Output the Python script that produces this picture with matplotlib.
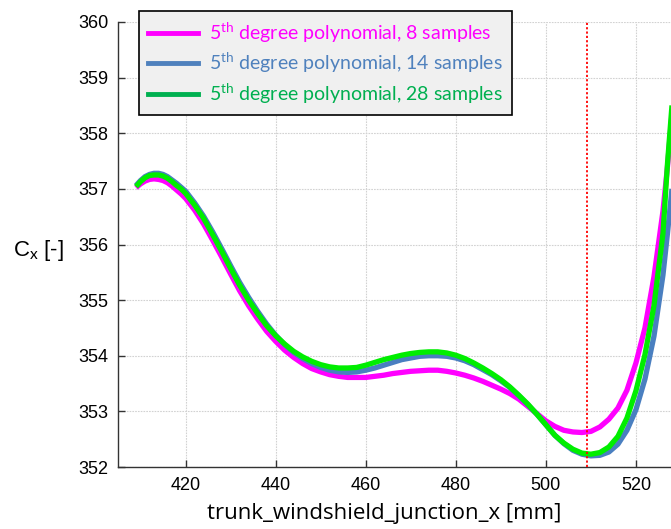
import matplotlib
matplotlib.use("Agg")
import matplotlib.pyplot as plt
from matplotlib.lines import Line2D

# ---- data ----
x_vals = [409, 410, 411, 412, 413, 414, 415, 416, 417, 418, 419, 420,
          422, 424, 426, 428, 430, 432, 434, 436, 438, 440, 442, 444, 446, 448,
          450, 452, 454, 456, 458, 460, 462, 464, 466, 468, 470, 472, 474, 476,
          478, 480, 482, 484, 486, 488, 490, 492, 494, 496, 498, 500, 502, 504,
          506, 508, 510, 512, 514, 516, 518, 520, 522, 524, 526, 527, 528]

y_8 = [357.02, 357.09, 357.14, 357.17, 357.18, 357.17, 357.15, 357.11, 357.05,
       356.98, 356.91, 356.83,
       356.62, 356.37, 356.08, 355.78, 355.47, 355.17, 354.90, 354.66, 354.44,
       354.26, 354.10, 353.97, 353.86, 353.77, 353.71, 353.66, 353.63, 353.61,
       353.61, 353.61, 353.63, 353.65, 353.68, 353.70, 353.72, 353.73, 353.74,
       353.74, 353.72, 353.69, 353.65, 353.60, 353.54, 353.47, 353.40, 353.32,
       353.22, 353.09, 352.96, 352.83, 352.73, 352.66, 352.63, 352.62, 352.64,
       352.72, 352.86, 353.06, 353.38, 353.87, 354.50, 355.42, 356.60, 357.40,
       358.35]

y_14 = [357.06, 357.15, 357.22, 357.26, 357.28, 357.28, 357.26, 357.22, 357.16,
        357.10, 357.03, 356.96,
        356.75, 356.51, 356.23, 355.93, 355.62, 355.32, 355.05, 354.80, 354.57,
        354.37, 354.20, 354.06, 353.95, 353.86, 353.79, 353.74, 353.71, 353.70,
        353.71, 353.74, 353.78, 353.83, 353.88, 353.93, 353.96, 353.99, 354.00,
        354.00, 353.99, 353.96, 353.91, 353.84, 353.75, 353.66, 353.55, 353.43,
        353.28, 353.12, 352.95, 352.76, 352.57, 352.42, 352.30, 352.23, 352.20,
        352.21, 352.27, 352.41, 352.66, 353.03, 353.58, 354.35, 355.45, 356.20,
        357.00]

y_28 = [357.04, 357.13, 357.20, 357.24, 357.25, 357.25, 357.23, 357.19, 357.13,
        357.06, 357.00, 356.92,
        356.71, 356.47, 356.18, 355.88, 355.57, 355.27, 355.00, 354.76, 354.54,
        354.36, 354.21, 354.08, 353.98, 353.90, 353.84, 353.80, 353.78, 353.78,
        353.79, 353.83, 353.88, 353.93, 353.97, 354.01, 354.04, 354.06, 354.07,
        354.07, 354.05, 354.01, 353.95, 353.87, 353.78, 353.68, 353.57, 353.44,
        353.29, 353.13, 352.95, 352.76, 352.57, 352.43, 352.32, 352.25, 352.23,
        352.26, 352.36, 352.55, 352.88, 353.37, 354.02, 354.90, 356.20, 357.45,
        358.50]

optimum_x = 509.1
x_ticks = [420, 440, 460, 480, 500, 520]
y_ticks = [352, 353, 354, 355, 356, 357, 358, 359, 360]
legend_labels = [r"5$^{\mathrm{th}}$ degree polynomial, 8 samples",
                 r"5$^{\mathrm{th}}$ degree polynomial, 14 samples",
                 r"5$^{\mathrm{th}}$ degree polynomial, 28 samples"]
x_label = "trunk_windshield_junction_x [mm]"
y_label = r"C$_\mathrm{x}$ [-]"

# ---- style ----
plt.rcParams['font.family'] = ['Liberation Sans', 'DejaVu Sans']
plt.rcParams['mathtext.fontset'] = 'custom'
plt.rcParams['mathtext.rm'] = 'Lato'

W, H = 671, 529
fig = plt.figure(figsize=(W / 100, H / 100), dpi=100)
ax = fig.add_axes([118 / W, 1 - 467 / H, 1 - 118 / W + 0.0001, (467 - 22) / H])

c_mag = '#ff00ff'
c_blue = '#4a7fc0'
c_green = '#00ee00'

lw = 3.8
ax.plot(x_vals, y_8, color=c_mag, lw=lw, solid_capstyle='butt',
        solid_joinstyle='round', zorder=3)
ax.plot(x_vals, y_14, color=c_blue, lw=lw, solid_capstyle='butt',
        solid_joinstyle='round', zorder=4)
ax.plot(x_vals, y_28, color=c_green, lw=lw, solid_capstyle='butt',
        solid_joinstyle='round', zorder=5)
ax.axvline(optimum_x, color='#ff0000', lw=1.3, ls=(0, (1.2, 1.2)), zorder=6)

ax.set_xlim(405, 527.8)
ax.set_ylim(352, 360)
ax.set_xticks(x_ticks)
ax.set_yticks(y_ticks)
ax.grid(True, color='#d2d2d2', lw=0.8, ls=(0, (1.5, 1.0)))
ax.set_axisbelow(True)
for s in ['top', 'right']:
    ax.spines[s].set_visible(False)
for s in ['left', 'bottom']:
    ax.spines[s].set_color('#333333')
    ax.spines[s].set_linewidth(1.0)
ax.tick_params(direction='in', length=5, width=1.0, color='#333333',
               labelsize=13, pad=7)

fig.text(384 / W, 1 - 513 / H, x_label, ha='center', va='center', fontsize=16,
         family=['Open Sans', 'DejaVu Sans'])
fig.text(13 / W, 1 - 250 / H, y_label, ha='left', va='center', fontsize=16)

handles = [Line2D([], [], color='#ff00ff', lw=3.5),
           Line2D([], [], color='#4f81bd', lw=3.5),
           Line2D([], [], color='#00b050', lw=3.5)]
leg = fig.legend(handles, legend_labels, loc='upper left',
                 bbox_to_anchor=(139 / W, 1 - 11 / H), fancybox=False,
                 framealpha=1, facecolor='#f0f0f0', edgecolor='#000000',
                 prop={'family': 'Lato', 'size': 14}, handlelength=2.6,
                 handletextpad=0.55, borderpad=0.45, labelspacing=0.3,
                 borderaxespad=0)
leg.get_frame().set_linewidth(1.2)
for t, c in zip(leg.get_texts(), ['#ff00ff', '#4f81bd', '#00b050']):
    t.set_color(c)

fig.savefig('out.png', dpi=100)
